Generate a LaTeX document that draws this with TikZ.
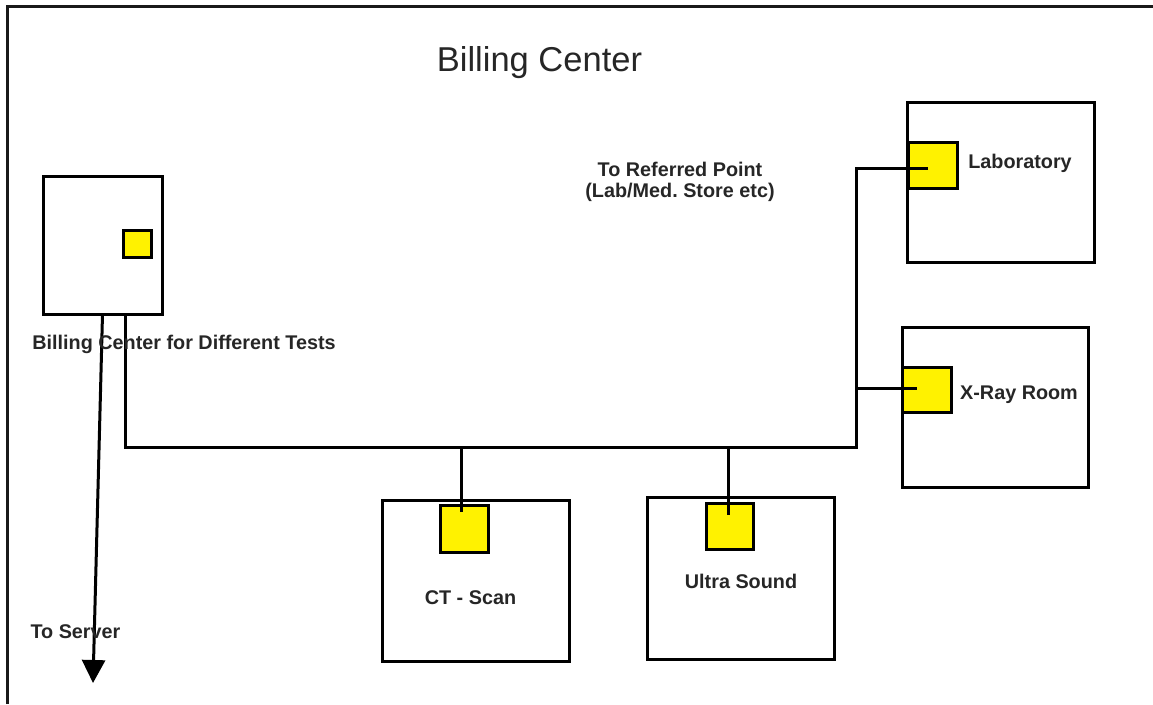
\documentclass[tikz,border=0pt]{standalone}
\usepackage{fontspec}
\setmainfont{Liberation Sans}
\usetikzlibrary{arrows.meta}
\frenchspacing
\begin{document}
\begin{tikzpicture}[x=1pt,y=-1pt,line width=3pt,
  room/.style={draw,rectangle,inner sep=0pt,outer sep=0pt},
  port/.style={draw,fill=yellow,rectangle,inner sep=0pt,outer sep=0pt},
  lbl/.style={font=\fontsize{19.8}{22}\selectfont\bfseries,inner sep=0pt,anchor=base,text=black!85},
  wire/.style={line width=3pt,line join=miter},
  frame/.style={line width=3pt,draw=black!90}]
\useasboundingbox (0,0) rectangle (1153,704);
\draw[frame] (7,704) -- (7,6) -- (1153,6);

% rooms
\node[room,minimum width=119pt,minimum height=138pt] (bc) at (102.5,245) {};
\node[port,minimum width=28pt,minimum height=27pt] (bcport) at (137,243.5) {};
\node[room,minimum width=187pt,minimum height=160pt] (lab) at (1000.5,182) {};
\node[port,minimum width=49pt,minimum height=46pt] (labport) at (932.5,165) {};
\node[room,minimum width=186pt,minimum height=160pt] (xray) at (995,407) {};
\node[port,minimum width=49pt,minimum height=45pt] (xport) at (926.5,389.5) {};
\node[room,minimum width=187pt,minimum height=161pt] (ct) at (475.5,580.5) {};
\node[port,minimum width=48pt,minimum height=47pt] (ctport) at (464,528.5) {};
\node[room,minimum width=187pt,minimum height=162pt] (us) at (740.5,578) {};
\node[port,minimum width=47pt,minimum height=46pt] (usport) at (729.5,526) {};

% junction coordinates
\coordinate (busL) at (125,447);
\coordinate (busR) at (856,447);
\coordinate (riser) at (856,168);
\coordinate (xtap) at (856,388);
\coordinate (labtip) at (928,168);
\coordinate (xtip) at (917,388);
\coordinate (cttip) at (461,512);
\coordinate (ustip) at (728,515);
\coordinate (srv) at (93,683);

% connectors
\draw[wire] (bc.south -| busL) -- (busL) -- (busR) -- (riser) -- (labtip);
\draw[wire] (xtap) -- (xtip);
\draw[wire] (cttip |- busL) -- (cttip);
\draw[wire] (ustip |- busL) -- (ustip);
\draw[wire,-{Triangle[width=23pt,length=23pt]}] (bc.south) -- (srv);

% texts
\node[inner sep=0pt,anchor=base,font=\fontsize{34.5}{40}\selectfont,text=black!85] (title) at (539.5,71) {Billing Center};
\node[lbl] (bclbl) at (184,349) {Billing Center for Different Tests};
\node[lbl] (ref1) at (680,176) {To Referred Point};
\node[lbl] (ref2) at (680,197) {(Lab/Med. Store etc)};
\node[lbl] (lablbl) at (1020,168) {Laboratory};
\node[lbl] (xlbl) at (1019,399) {X-Ray Room};
\node[lbl] (ctlbl) at (470.5,604) {CT - Scan};
\node[lbl] (uslbl) at (741,588) {Ultra Sound};
\node[lbl] (srvlbl) at (75.5,638) {To Server};
\end{tikzpicture}
\end{document}
